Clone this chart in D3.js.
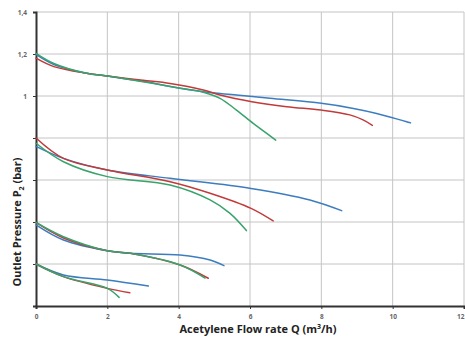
<!DOCTYPE html>
<html><head><meta charset="utf-8">
<script src="https://cdn.jsdelivr.net/npm/d3@7"></script>
<style>body{margin:0;background:#fff}svg{display:block}</style>
</head><body><svg id="c" width="465" height="339"></svg>
<script>
const xTicks = [0, 2, 4, 6, 8, 10, 12];
const yTicks = [0, 0.2, 0.4, 0.6, 0.8, 1.0, 1.2, 1.4];
const yTickLabels = ["", "", "", "", "", "1", "1,2", "1,4"];
const seriesNames = ["blue", "red", "green"];
const colors = ["#3d7dbf", "#c23a3a", "#38a36c"];

// group starting at 1.2 bar
const g1Blue  = [[0,1.198],[0.5,1.15],[1.42,1.108],[2,1.095],[3,1.07],[3.76,1.045],[4.69,1.02],[5.62,1.005],[6.56,0.989],[8,0.965],[8.9,0.941],[9.55,0.917],[10.5,0.872]];
const g1Red   = [[0,1.18],[0.5,1.14],[1.42,1.108],[2,1.095],[3,1.075],[3.76,1.06],[4.69,1.029],[5.16,1.005],[6.05,0.973],[7.03,0.949],[8,0.933],[8.8,0.91],[9.17,0.886],[9.43,0.86]];
const g1Green = [[0,1.203],[0.5,1.155],[1.42,1.108],[2,1.095],[3,1.068],[4.04,1.037],[4.69,1.018],[5.16,0.989],[5.62,0.933],[6.09,0.87],[6.47,0.822],[6.72,0.79]];
// group starting at 0.8 bar
const g2Blue  = [[0,0.76],[0.77,0.703],[2,0.648],[3.76,0.608],[6.03,0.56],[7.68,0.505],[8.57,0.454]];
const g2Red   = [[0,0.80],[0.77,0.703],[2,0.648],[3.76,0.592],[4.88,0.537],[6.03,0.465],[6.65,0.405]];
const g2Green = [[0,0.775],[0.77,0.687],[2,0.616],[3.76,0.576],[4.88,0.505],[5.44,0.441],[5.9,0.359]];
// group starting at 0.4 bar
const g3Blue  = [[0,0.386],[0.77,0.314],[2,0.263],[2.64,0.251],[4.04,0.243],[4.88,0.219],[5.27,0.192]];
const g3Red   = [[0,0.398],[0.77,0.324],[2,0.263],[2.64,0.251],[4.04,0.195],[4.83,0.132]];
const g3Green = [[0,0.398],[0.77,0.33],[2,0.263],[2.64,0.251],[4.04,0.195],[4.74,0.133]];
// group starting at 0.2 bar
const g4Blue  = [[0,0.2],[0.77,0.148],[2,0.124],[3.15,0.095]];
const g4Red   = [[0,0.2],[0.77,0.14],[2,0.084],[2.63,0.063]];
const g4Green = [[0,0.2],[0.77,0.14],[2,0.084],[2.33,0.041]];

const groups = [
  [g1Blue, g1Red, g1Green],
  [g2Blue, g2Red, g2Green],
  [g3Blue, g3Red, g3Green],
  [g4Blue, g4Red, g4Green]
];

const svg = d3.select("#c");
const x = d3.scaleLinear().domain([0, 12]).range([36, 464]);
const y = d3.scaleLinear().domain([0, 1.4]).range([306, 12]);

// grid
svg.append("g").selectAll("line").data(yTicks.slice(1)).join("line")
  .attr("x1", x(0)).attr("x2", x(12)).attr("y1", d => y(d)).attr("y2", d => y(d))
  .attr("stroke", "#c4c4c4").attr("stroke-width", 1);
svg.append("g").selectAll("line").data(xTicks.slice(1)).join("line")
  .attr("x1", d => x(d)).attr("x2", d => x(d)).attr("y1", y(0)).attr("y2", y(1.4))
  .attr("stroke", "#c4c4c4").attr("stroke-width", 1);

// axes
const xAxis = d3.axisBottom(x).tickValues(xTicks).tickSize(3).tickPadding(5).tickFormat(d3.format("d"));
const gx = svg.append("g").attr("transform", `translate(0,${y(0)})`).call(xAxis);
gx.select(".domain").attr("stroke", "#333").attr("stroke-width", 2);
gx.selectAll(".tick line").attr("stroke", "#333");
gx.selectAll("text").attr("font-family", "Open Sans, sans-serif").attr("font-size", 6.5).attr("font-weight", "bold").attr("fill", "#666");
gx.selectAll(".tick").filter(d => d === 12).select("text").attr("text-anchor", "end");

const yAxis = d3.axisLeft(y).tickValues(yTicks).tickSize(3).tickPadding(6).tickFormat((d, i) => yTickLabels[i]);
const gy = svg.append("g").attr("transform", `translate(${x(0)},0)`).call(yAxis);
gy.select(".domain").attr("stroke", "#333").attr("stroke-width", 2);
gy.selectAll(".tick line").attr("stroke", "#333");
gy.selectAll("text").attr("font-family", "Open Sans, sans-serif").attr("font-size", 6.5).attr("font-weight", "bold").attr("fill", "#666");

// lines
const line = d3.line().x(d => x(d[0])).y(d => y(d[1])).curve(d3.curveCatmullRom.alpha(0.5));
groups.forEach(g => {
  g.forEach((s, i) => {
    svg.append("path").datum(s).attr("d", line)
      .attr("fill", "none").attr("stroke", colors[i]).attr("stroke-width", 1.5)
      .attr("stroke-linecap", "round");
  });
});

// axis titles
const xt = svg.append("text").attr("x", 258).attr("y", 333).attr("text-anchor", "middle")
  .attr("font-family", "Open Sans, sans-serif").attr("font-size", 11).attr("font-weight", "bold").attr("fill", "#222");
xt.append("tspan").text("Acetylene Flow rate Q (m");
xt.append("tspan").attr("font-size", 7).attr("dy", -4).text("3");
xt.append("tspan").attr("dy", 4).text("/h)");

const yt = svg.append("text").attr("transform", "translate(21,222) rotate(-90)").attr("text-anchor", "middle")
  .attr("font-family", "Open Sans, sans-serif").attr("font-size", 11).attr("font-weight", "bold").attr("fill", "#222");
yt.append("tspan").text("Outlet Pressure P");
yt.append("tspan").attr("font-size", 7).attr("dy", 3).text("2");
yt.append("tspan").attr("dy", -3).text(" (bar)");
</script></body></html>
